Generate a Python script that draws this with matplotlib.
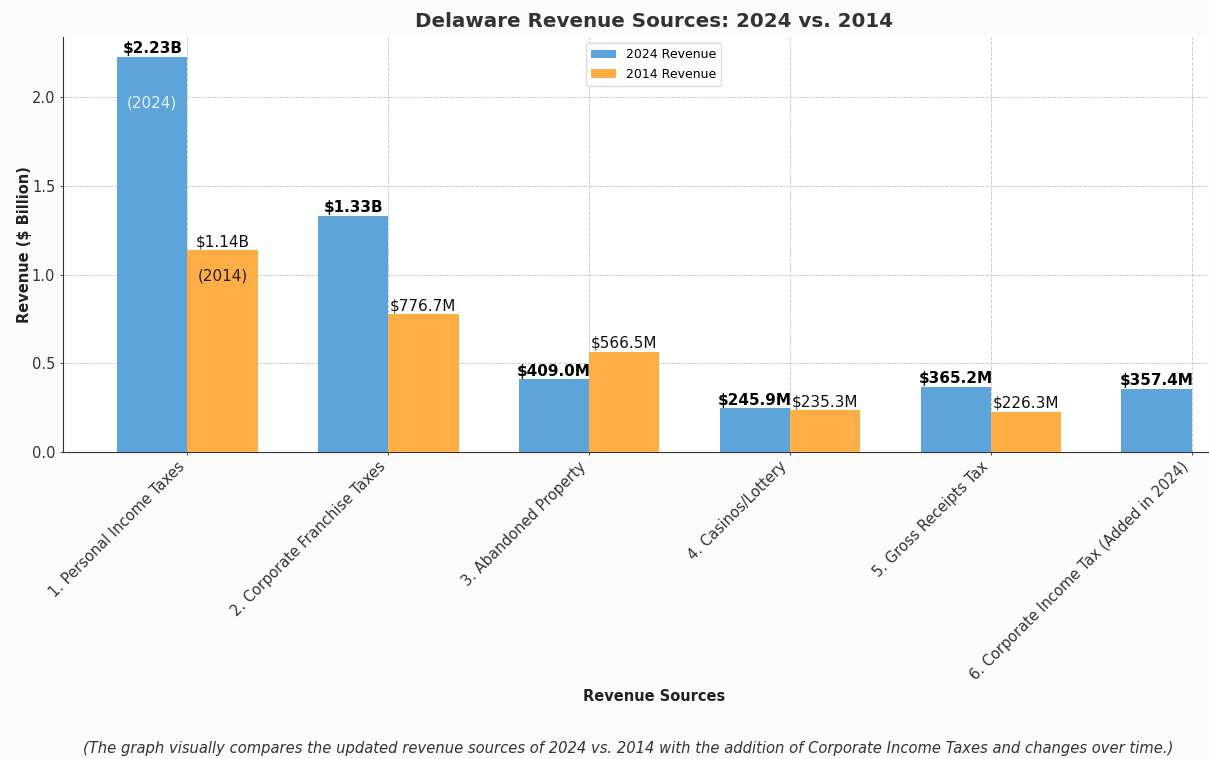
import matplotlib
matplotlib.use("Agg")
import matplotlib.pyplot as plt
import numpy as np

categories = ["1. Personal Income Taxes", "2. Corporate Franchise Taxes", "3. Abandoned Property",
              "4. Casinos/Lottery", "5. Gross Receipts Tax", "6. Corporate Income Tax (Added in 2024)"]
rev_2024 = [2.23, 1.33, 0.409, 0.2459, 0.3652, 0.3574]
rev_2014 = [1.14, 0.7767, 0.5665, 0.2353, 0.2263, 0.0]
labels_2024 = ["$2.23B", "$1.33B", "$409.0M", "$245.9M", "$365.2M", "$357.4M"]
labels_2014 = ["$1.14B", "$776.7M", "$566.5M", "$235.3M", "$226.3M", ""]

blue = "#5ca4da"
orange = "#ffae45"

fig = plt.figure(figsize=(12.09, 7.59), dpi=100, facecolor="#fcfcfc")
ax = fig.add_axes([0.052, 0.4045, 0.947, 0.5465])
ax.set_facecolor("white")

x = np.arange(len(categories))
w = 0.35
ax.bar(x - w/2, rev_2024, w, color=blue, label="2024 Revenue", zorder=3)
ax.bar(x + w/2, rev_2014, w, color=orange, label="2014 Revenue", zorder=3)

for xi, v, lab in zip(x, rev_2024, labels_2024):
    ax.text(xi - w/2, v + 0.005, lab, ha="center", va="bottom", fontsize=11, fontweight="bold", color="black", zorder=4)
for xi, v, lab in zip(x, rev_2014, labels_2014):
    if lab:
        ax.text(xi + w/2, v + 0.005, lab, ha="center", va="bottom", fontsize=11, color="#111111", zorder=4)

ax.text(x[0] - w/2, 1.97, "(2024)", ha="center", va="center", fontsize=11, color="#e8f0f8", zorder=4)
ax.text(x[0] + w/2, 0.99, "(2014)", ha="center", va="center", fontsize=11, color="#222222", zorder=4)

ax.set_xlim(-0.62, 5.08)
ax.set_ylim(0, 2.34)
ax.set_xticks(x)
ax.set_xticklabels(categories, rotation=45, ha="right", fontsize=10.5, color="#333333")
ax.set_yticks([0, 0.5, 1.0, 1.5, 2.0])
ax.tick_params(axis="y", labelsize=10.5, labelcolor="#333333", length=2, color="#555555")
ax.tick_params(axis="x", length=2, color="#555555", pad=3)
ax.grid(True, linestyle="--", color="#cccccc", linewidth=0.7, zorder=0)
ax.spines["top"].set_visible(False)
ax.spines["right"].set_visible(False)
ax.spines["left"].set_color("#333333")
ax.spines["bottom"].set_color("#333333")

ax.set_ylabel("Revenue ($ Billion)", fontsize=10.5, fontweight="bold", color="#222222", labelpad=0)
ax.set_xlabel("Revenue Sources", fontsize=10.5, fontweight="bold", color="#222222", labelpad=4)
ax.xaxis.set_label_coords(0.516, -0.571)
ax.set_title("Delaware Revenue Sources: 2024 vs. 2014", fontsize=14.3, fontweight="bold", color="#333333",
             x=0.516, pad=7)

ax.legend(loc="upper center", fontsize=9, frameon=True, framealpha=1.0, edgecolor="#dddddd",
          bbox_to_anchor=(0.516, 1.0))

fig.text(0.52, 0.004, "(The graph visually compares the updated revenue sources of 2024 vs. 2014 with the addition of Corporate Income Taxes and changes over time.)",
         ha="center", va="bottom", fontsize=10.6, style="italic", color="#333333")

fig.savefig("out.png", dpi=100, facecolor=fig.get_facecolor())
